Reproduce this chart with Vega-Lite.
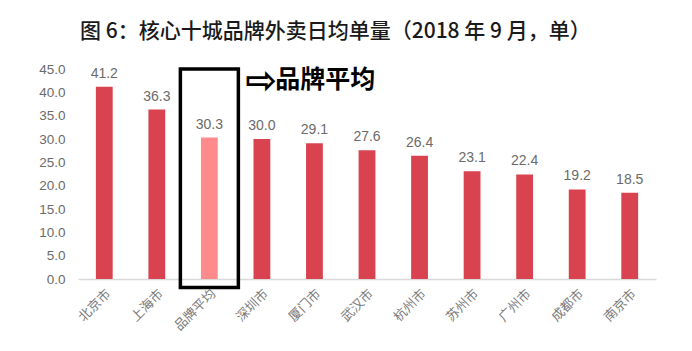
{
  "$schema": "https://vega.github.io/schema/vega-lite/v6.json",
  "width": 578,
  "height": 210,
  "autosize": {"type": "none"},
  "padding": {"left": 78, "top": 69, "right": 36, "bottom": 72},
  "background": "white",
  "title": {
    "text": "图 6：核心十城品牌外卖日均单量（2018 年 9 月，单）",
    "anchor": "start",
    "frame": "group",
    "offset": 20,
    "dx": 2,
    "font": "Noto Sans CJK SC",
    "fontSize": 21,
    "fontWeight": 500,
    "color": "#1a1a1a"
  },
  "config": {
    "view": {"stroke": null},
    "font": "Liberation Sans",
    "axisY": {"labelOverlap": false, "labelFlush": false}
  },
  "data": {
    "values": [
      {"city": "北京市", "value": 41.2, "kind": "city"},
      {"city": "上海市", "value": 36.3, "kind": "city"},
      {"city": "品牌平均", "value": 30.3, "kind": "avg"},
      {"city": "深圳市", "value": 30.0, "kind": "city"},
      {"city": "厦门市", "value": 29.1, "kind": "city"},
      {"city": "武汉市", "value": 27.6, "kind": "city"},
      {"city": "杭州市", "value": 26.4, "kind": "city"},
      {"city": "苏州市", "value": 23.1, "kind": "city"},
      {"city": "广州市", "value": 22.4, "kind": "city"},
      {"city": "成都市", "value": 19.2, "kind": "city"},
      {"city": "南京市", "value": 18.5, "kind": "city"}
    ]
  },
  "encoding": {
    "x": {
      "field": "city",
      "type": "nominal",
      "sort": null,
      "scale": {"paddingInner": 0.68, "paddingOuter": 0.34},
      "axis": {
        "title": null,
        "labelAngle": -45,
        "labelFont": "Noto Sans CJK SC",
        "labelFontSize": 13,
        "labelColor": "#7a7a7a",
        "labelPadding": 8,
        "ticks": false,
        "domainColor": "#d9d9d9",
        "domainWidth": 1.5
      }
    },
    "y": {
      "field": "value",
      "type": "quantitative",
      "scale": {"domain": [0, 45], "nice": false},
      "axis": {
        "title": null,
        "values": [0, 5, 10, 15, 20, 25, 30, 35, 40, 45],
        "format": ".1f",
        "grid": false,
        "domain": false,
        "ticks": false,
        "labelOverlap": false,
        "labelPadding": 13,
        "labelFontSize": 13.5,
        "labelColor": "#6b6b6b",
        "labelFont": "Liberation Sans"
      }
    }
  },
  "layer": [
    {
      "mark": {"type": "bar"},
      "encoding": {
        "color": {
          "field": "kind",
          "type": "nominal",
          "scale": {"domain": ["city", "avg"], "range": ["#D9434F", "#FF8A8C"]},
          "legend": null
        }
      }
    },
    {
      "mark": {"type": "text", "baseline": "bottom", "dy": -6, "fontSize": 14, "color": "#6b6b6b", "font": "Liberation Sans"},
      "encoding": {
        "text": {"field": "value", "type": "quantitative", "format": ".1f"}
      }
    },
    {
      "data": {"values": [{"city": "品牌平均", "value": 45, "bottom": -1.8}]},
      "mark": {"type": "bar", "filled": false, "stroke": "#000000", "strokeWidth": 3.5, "width": 58},
      "encoding": {
        "y2": {"field": "bottom"}
      }
    },
    {
      "data": {"values": [{"city": "品牌平均", "value": 42.6, "label": "⇨"}]},
      "mark": {"type": "text", "align": "left", "baseline": "middle", "dx": 36, "dy": 2, "fontSize": 38, "fontWeight": "bold", "font": "DejaVu Sans", "color": "#000000"},
      "encoding": {
        "text": {"field": "label"}
      }
    },
    {
      "data": {"values": [{"city": "品牌平均", "value": 42.6, "label": "品牌平均"}]},
      "mark": {"type": "text", "align": "left", "baseline": "middle", "dx": 66, "fontSize": 25, "fontWeight": "bold", "font": "Noto Sans CJK SC", "color": "#000000"},
      "encoding": {
        "text": {"field": "label"}
      }
    }
  ]
}
